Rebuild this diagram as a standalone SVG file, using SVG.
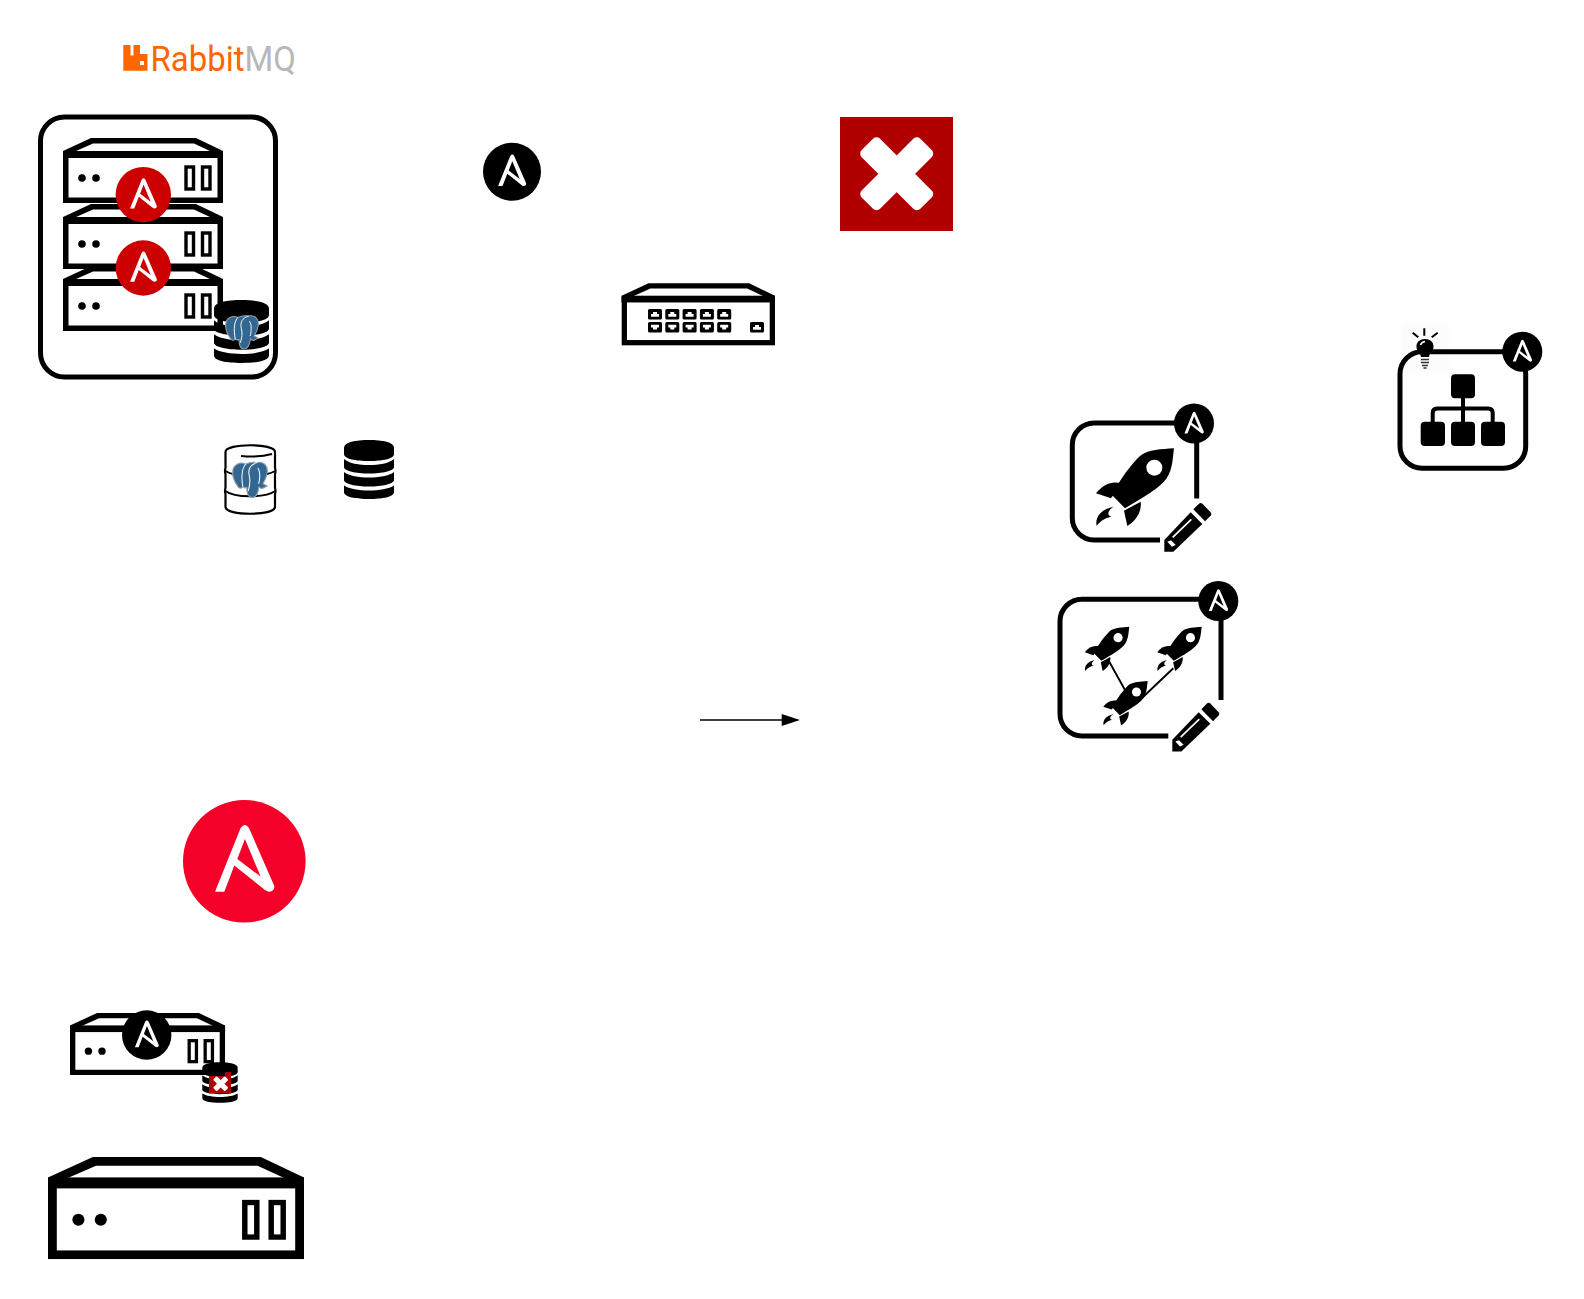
<svg xmlns="http://www.w3.org/2000/svg" xmlns:xlink="http://www.w3.org/1999/xlink" width="1584" height="1299" viewBox="0 0 1584 1299">
<style>
.ln{fill:none;stroke:#000;stroke-width:5;stroke-linecap:butt}
.thin{fill:none;stroke:#000;stroke-width:1.900}
.red{color:#c00}
.blk{color:#000}
</style>
<defs>
<g id="chassis">
<path d="M0 13 L28 0 H133 L160 13 V20 H0 Z"/>
<path d="M12 13.500 L30 5.500 H131 L148 13.500 Z" fill="#fff"/>
<rect x="2.750" y="17" width="154.500" height="45.250" fill="#fff" stroke="#000" stroke-width="5.500"/>
<rect x="0" y="13" width="160" height="7"/>
</g>
<g id="server">
<use href="#chassis"/>
<circle cx="19" cy="40" r="3.800"/><circle cx="33" cy="40" r="3.800"/>
<rect x="123" y="29" width="7.500" height="22" fill="#fff" stroke="#000" stroke-width="3.400"/>
<rect x="139.500" y="29" width="7.500" height="22" fill="#fff" stroke="#000" stroke-width="3.400"/>
</g>
<g id="logo">
<circle r="100" fill="currentColor"/>
<path fill="#fff" fill-rule="evenodd" d="M-47.800 49.500 H-32.600 L-16.300 7 L33.700 46.700 Q41.800 52.500 47 47 Q50 44 48.400 39 L7.600 -54.300 Q1 -64 -6 -54.300 Z M1 -36.400 L-11.400 -3.800 L26.600 25 Z"/>
</g>
<g id="db">
<path d="M0 8 C0 2 12 0 25 0 S50 2 50 8 V14 C50 19 38 21 25 21 S0 19 0 14Z"/>
<path d="M0 19 C5 23.500 15 25 25 25 S45 23.500 50 19 V27 C50 31 38 33.500 25 33.500 S0 31 0 27Z"/>
<path d="M0 32 C5 36 15 37.500 25 37.500 S45 36 50 32 V40 C50 44 38 46.500 25 46.500 S0 44 0 40Z"/>
<path d="M0 45.500 C5 49 15 50.500 25 50.500 S45 49 50 45.500 V52 C50 57 38 59 25 59 S0 57 0 52Z"/>
</g>
<g id="elephant">
<path fill="#336791" stroke="#97a3ad" stroke-width="3" stroke-linejoin="round" d="M2 28 C3 8 22 0 38 7 C48 2 60 1 70 3 C86 -1 100 10 98 30 C96 45 90 55 86 62 L98 68 L84 75 C80 75 77 73 75 70 C73 85 70 100 56 100 C45 100 41 88 41 72 C37 74 32 72 30 70 C28 74 22 76 18 72 C12 64 0 45 2 28 Z"/>
<path fill="none" stroke="#fff" stroke-width="2.800" d="M38 7 C27 20 25 40 30 70 M70 3 C50 8 44 22 48 40 C52 55 50 65 45 82 M72 18 C80 30 77 50 74 62"/>
</g>
<g id="rocket">
<path d="M372 175 C335 178 295 178 270 198 C245 222 208 270 186 315 L225 355 C275 325 330 295 350 265 C368 238 368 205 372 175 Z"/>
<circle cx="313" cy="233" r="24" fill="#fff"/>
<path d="M138 310 C160 283 185 272 214 280 L183 325 Z"/>
<path d="M272 335 C276 365 258 392 232 408 L222 362 Z"/>
<path d="M190 350 C155 358 134 380 140 408 C150 392 170 382 192 378 C175 384 165 368 190 350 Z"/>
</g>
<g id="pencil">
<path d="M430 358 L447 341 Q452 337 457 341 L482 367 Q486 372 482 377 L465 394 Z"/>
<path d="M422 367 L457 402 L370 485 L343 485 L343 450 Z"/>
<path d="M368 442 L424 388" stroke="#fff" stroke-width="5" fill="none"/>
<path d="M352 455 L363 451 L377 465 L366 470 Z" fill="#fff"/>
</g>
<path id="portUp" fill-rule="evenodd" d="M1.500 0 H12.500 Q14 0 14 1.500 V9 Q14 10.500 12.500 10.500 H1.500 Q0 10.500 0 9 V1.500 Q0 0 1.500 0 Z M3 7.800 H11 V5 H9 V3 H5 V5 H3 Z"/>
<path id="portDown" fill-rule="evenodd" d="M1.500 0 H12.500 Q14 0 14 1.500 V9 Q14 10.500 12.500 10.500 H1.500 Q0 10.500 0 9 V1.500 Q0 0 1.500 0 Z M3 2.700 H11 V5.500 H9 V7.500 H5 V5.500 H3 Z"/>
<g id="xmark">
<rect x="-41.500" y="-13" width="83" height="26" rx="5" transform="rotate(45)" fill="#fff"/>
<rect x="-41.500" y="-13" width="83" height="26" rx="5" transform="rotate(-45)" fill="#fff"/>
</g>
</defs>

<g id="rabbitmq">
<path fill="#f60" fill-rule="evenodd" d="M123.300 45 H130.500 V55.500 H133.500 V45 H140 V54 H147.500 V70.700 H123.300 Z M140 61 V65 H144 V61 Z"/>
<text transform="translate(150.500 70.700) scale(.915 1)" font-family="Roboto, 'Liberation Sans', sans-serif" font-weight="400" font-size="36"><tspan fill="#f60">Rabbit</tspan><tspan fill="#b8b8b8">MQ</tspan></text>
</g>

<g id="cluster">
<rect x="40.500" y="117" width="235" height="260" rx="24" fill="#fff" stroke="#000" stroke-width="5"/>
<use href="#server" x="63" y="138"/>
<use href="#server" x="63" y="204"/>
<use href="#server" x="63" y="266"/>
<use href="#logo" class="red" transform="translate(143.300 194.700) scale(.277)"/>
<use href="#logo" class="red" transform="translate(143.300 268) scale(.277)"/>
<use href="#db" transform="translate(214 300) scale(1.100 1.068)"/>
<use href="#elephant" transform="translate(225 315) scale(.34)"/>
</g>

<g id="ansible-black"><use href="#logo" class="blk" transform="translate(512 171.700) scale(.29)"/></g>

<g id="error">
<rect x="840" y="117" width="113" height="114" fill="#b10000"/>
<use href="#xmark" transform="translate(896.700 173.800)"/>
</g>

<g id="switch">
<use href="#chassis" transform="translate(621.700 283.300) scale(.958 .954)"/>
<use href="#portUp" x="648" y="309"/><use href="#portUp" x="665.300" y="309"/><use href="#portUp" x="682.600" y="309"/><use href="#portUp" x="699.900" y="309"/><use href="#portUp" x="717.200" y="309"/>
<use href="#portDown" x="648" y="322"/><use href="#portDown" x="665.300" y="322"/><use href="#portDown" x="682.600" y="322"/><use href="#portDown" x="699.900" y="322"/><use href="#portDown" x="717.200" y="322"/>
<use href="#portUp" x="750" y="322"/>
</g>

<g id="postgres-db">
<path fill="#fff" stroke="#000" stroke-width="2.200" d="M225.500 452 C225.500 443 275 443 275 452 V468 Q276 471 275 474 V488 Q276 491 275 494 V507 C275 516 225.500 516 225.500 507 V494 Q224.500 491 225.500 488 V474 Q224.500 471 225.500 468 Z"/>
<path class="thin" d="M225.500 471 C234 477 266 477 275 471 M225.500 491 C234 498 266 498 275 491 M241 456 C252 457 265 456 272 454"/>
<use href="#elephant" transform="translate(232 461.500) scale(.36)"/>
</g>

<g id="db-black"><use href="#db" transform="translate(344 440)"/></g>

<g id="job-template">
<path class="ln" d="M1160 540 H1094 A22 22 0 0 1 1072.300 518 V445 A22 22 0 0 1 1094 423 H1190 M1196.700 430 V498.500"/>
<use href="#rocket" transform="translate(1050 390) scale(.3333)"/>
<use href="#pencil" transform="translate(1050 390) scale(.3333)"/>
<use href="#logo" class="blk" transform="translate(1194 423.500) scale(.2)"/>
</g>

<g id="workflow-template">
<path class="ln" d="M1168.300 736 H1082 A22 22 0 0 1 1060 714 V621 A22 22 0 0 1 1082 599.300 H1214 M1221 606 V700"/>
<path class="thin" d="M1108.300 660 L1125 690 M1173.300 668.300 L1141.700 698.300"/>
<use href="#rocket" transform="translate(1058.600 593.400) scale(.19)"/>
<use href="#rocket" transform="translate(1131 593.400) scale(.19)"/>
<use href="#rocket" transform="translate(1077 647.750) scale(.19)"/>
<use href="#pencil" transform="translate(1058 589.830) scale(.3333)"/>
<use href="#logo" class="blk" transform="translate(1218.300 601) scale(.2)"/>
</g>

<g id="inventory">
<rect x="1401" y="323.300" width="48" height="48.400" fill="#fcfcfc"/>
<rect x="1400" y="351.700" width="125.700" height="116.600" rx="22" fill="none" stroke="#000" stroke-width="5"/>
<rect x="1451" y="374.300" width="24" height="24" rx="4"/>
<rect x="1420.700" y="421.700" width="24.300" height="24.300" rx="4"/>
<rect x="1451" y="421.700" width="24" height="24.300" rx="4"/>
<rect x="1481" y="421.700" width="24" height="24.300" rx="4"/>
<path d="M1463 398 V422 M1432.700 422 V413 Q1432.700 408.500 1437 408.500 H1488 Q1492.700 408.500 1492.700 413 V422" fill="none" stroke="#000" stroke-width="4"/>
<path d="M1424.300 328.300 V335.700 M1412.700 332.700 L1418.300 337.300 M1437.700 332.700 L1431.700 337.300" fill="none" stroke="#000" stroke-width="2"/>
<path d="M1425 339 C1431 339 1434 343 1433.500 347.500 C1433 351 1429.500 353 1429 357 H1421 C1420.500 353 1417 351 1416.500 347.500 C1416 343 1419 339 1425 339 Z"/>
<path d="M1420.500 345 Q1421.500 342 1425 341.500" fill="none" stroke="#fff" stroke-width="1.500"/>
<path d="M1421 359.500 H1429 M1421 362.500 H1429 M1422 365.500 H1428 M1423.500 368 H1426.500" fill="none" stroke="#333" stroke-width="1.700"/>
<use href="#logo" class="blk" transform="translate(1522.300 351.700) scale(.2)"/>
</g>

<g id="connectors">
<path d="M700 720 H783" fill="none" stroke="#000" stroke-width="1.300"/>
<path d="M781.700 714 L800 720 L781.700 726 Z"/>
</g>

<g id="ansible-red"><use href="#logo" style="color:#f50028" transform="translate(244.300 861.300) scale(.613)"/></g>

<g id="tower-db-fail">
<use href="#server" transform="translate(70 1013) scale(.969 .954)"/>
<use href="#logo" class="blk" transform="translate(146.700 1035) scale(.247)"/>
<use href="#db" transform="translate(202.300 1062.300) scale(.708 .685)"/>
<rect x="209" y="1076" width="22" height="17.300" fill="#b10000"/>
<rect x="225" y="1072" width="6" height="5" fill="#b10000"/>
<use href="#xmark" transform="translate(220.700 1083.800) scale(.2)"/>
</g>

<g id="server-large"><use href="#server" transform="translate(48 1157) scale(1.600 1.570)"/></g>
</svg>
